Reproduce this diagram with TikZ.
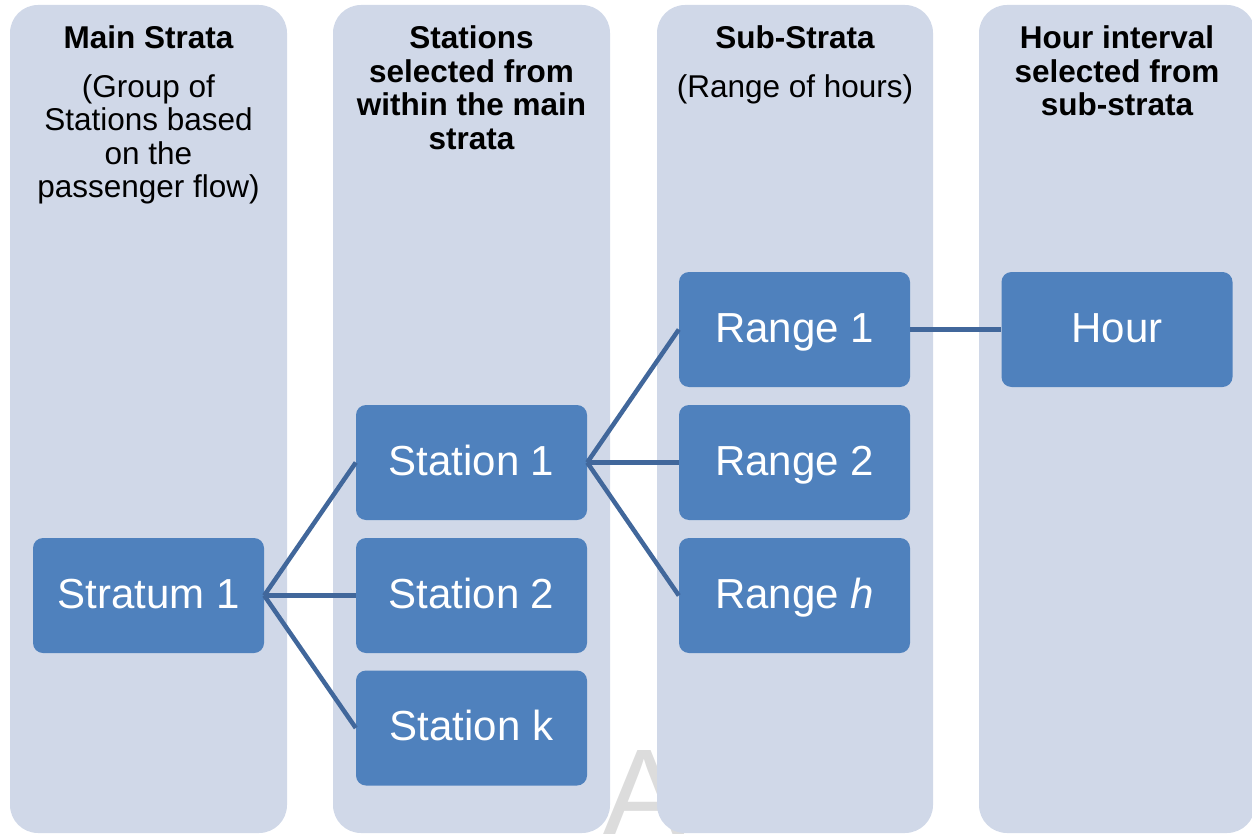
\documentclass[tikz,border=0pt]{standalone}
\usepackage{fontspec}
\setmainfont{Liberation Sans}
\definecolor{colbg}{HTML}{D0D8E8}
\definecolor{boxbg}{HTML}{4F81BD}
\definecolor{linec}{HTML}{41679B}
\definecolor{wm}{HTML}{DCDCDC}
\begin{document}
\begin{tikzpicture}[x=1pt,y=-1pt,
  column/.style={fill=colbg, rounded corners=28pt},
  item/.style={fill=boxbg, rounded corners=10pt, minimum width=231pt, minimum height=115pt, inner sep=0pt, text=white, font=\fontsize{42}{48}\selectfont, text height=30pt, text depth=5pt},
  link/.style={draw=linec, line width=4.5pt},
  head/.style={anchor=base, inner sep=0pt, text=black}
]
\useasboundingbox (0,0) rectangle (1252,834);
% faint watermark letter behind the columns
\node[anchor=base west, inner sep=0pt, text=wm, font=\fontsize{125}{125}\selectfont] (wmark) at (602,836) {A};
% columns
\fill[column] (10,5) rectangle (287,833);
\fill[column] (333,5) rectangle (610,833);
\fill[column] (657,5) rectangle (933,833);
\fill[column] (979,5) rectangle (1255,833);
% headers
\node[head] (h1) at (148.5,49) {\parbox[t]{270pt}{\centering\fontsize{31.5}{33.5}\selectfont\bfseries Main Strata\\[15pt]\mdseries (Group of\\Stations based\\on the\\passenger flow)}};
\node[head] (h2) at (471.5,49) {\parbox[t]{270pt}{\centering\fontsize{31.5}{33.5}\selectfont\bfseries Stations\\selected from\\within the main\\strata}};
\node[head] (h3) at (795,49) {\parbox[t]{270pt}{\centering\fontsize{31.5}{33.5}\selectfont\bfseries Sub-Strata\\[15pt]\mdseries (Range of hours)}};
\node[head] (h4) at (1117,49) {\parbox[t]{270pt}{\centering\fontsize{31.5}{33.5}\selectfont\bfseries Hour interval\\selected from\\sub-strata}};
% boxes
\node[item] (s1) at (148.5,595.5) {Stratum 1};
\node[item] (st1) at (471.5,462.5) {Station 1};
\node[item] (st2) at (471.5,595.5) {Station 2};
\node[item] (stk) at (471.5,728) {Station k};
\node[item] (r1) at (794.5,329.5) {Range 1};
\node[item] (r2) at (794.5,462.5) {Range 2};
\node[item] (rh) at (794.5,595.5) {Range \textit{h}};
\node[item] (hr) at (1117,329.5) {Hour};
% connectors
\draw[link] (s1.east) -- (st1.west);
\draw[link] (s1.east) -- (st2.west);
\draw[link] (s1.east) -- (stk.west);
\draw[link] (st1.east) -- (r1.west);
\draw[link] (st1.east) -- (r2.west);
\draw[link] (st1.east) -- (rh.west);
\draw[link] (r1.east) -- (hr.west);
\end{tikzpicture}
\end{document}
